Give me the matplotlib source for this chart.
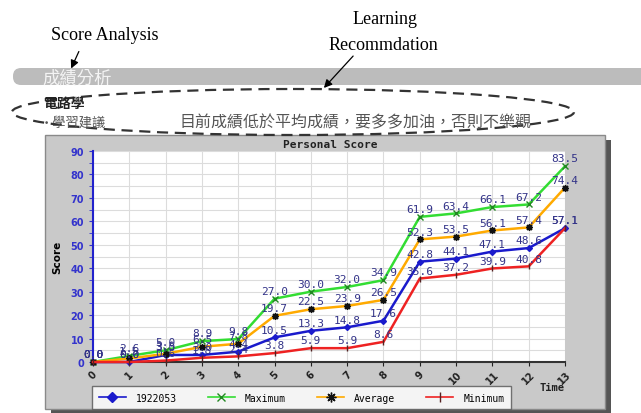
import matplotlib.pyplot as plt
from matplotlib.patches import Ellipse, FancyBboxPatch, Rectangle
from matplotlib.lines import Line2D

# chart data
times = list(range(14))
student = [0.0, 0.0, 3.0, 3.0, 4.4, 10.5, 13.3, 14.8, 17.6, 42.8, 44.1, 47.1, 48.6, 57.1]
maximum = [0.0, 2.6, 5.0, 8.9, 9.8, 27.0, 30.0, 32.0, 34.9, 61.9, 63.4, 66.1, 67.2, 83.5]
average = [0.0, 1.5, 3.5, 6.5, 7.8, 19.7, 22.5, 23.9, 26.5, 52.3, 53.5, 56.1, 57.4, 74.4]
minimum = [0.0, 0.0, 0.6, 1.8, 2.4, 3.8, 5.9, 5.9, 8.6, 35.6, 37.2, 39.9, 40.8, 57.1]
series_names = ["1922053", "Maximum", "Average", "Minimum"]
y_ticks = list(range(0, 91, 10))

W, H = 641, 414
fig = plt.figure(figsize=(W / 100, H / 100), dpi=100)

# page background in pixel coordinates
bg = fig.add_axes([0, 0, 1, 1], zorder=0)
bg.set_xlim(0, W)
bg.set_ylim(H, 0)
bg.axis("off")

serif = "Liberation Serif"
cjk = ["Noto Sans CJK TC", "DejaVu Sans"]

bg.text(105, 35, "Score Analysis", family=serif, fontsize=13, ha="center", va="center")
bg.text(385, 20, "Learning", family=serif, fontsize=13, ha="center", va="center")
bg.text(383, 45, "Recommdation", family=serif, fontsize=13, ha="center", va="center")
bg.annotate("", xy=(70, 72), xytext=(80, 50),
            arrowprops=dict(arrowstyle="-|>", color="black", lw=0.9, mutation_scale=12))
bg.annotate("", xy=(322, 91), xytext=(355, 55),
            arrowprops=dict(arrowstyle="-|>", color="black", lw=0.9, mutation_scale=12))

# grey section header
bg.add_patch(FancyBboxPatch((13, 69), 650, 17, boxstyle="round,pad=0,rounding_size=8",
                            facecolor="#bcbcbc", edgecolor="none"))
bg.text(42, 78, "成績分析", family=cjk, fontsize=12.5, color="#f4f4f4", va="center")

bg.text(43, 104, "電路學", family=cjk, fontsize=10, fontweight="bold", color="#222222", va="center")
bg.text(40, 123, "・學習建議", family=cjk, fontsize=9.5, color="#555555", va="center")
bg.text(180, 123, "目前成績低於平均成績，要多多加油，否則不樂觀", family=cjk, fontsize=11.5,
        color="#555555", va="center")

# chart panel with shadow
bg.add_patch(Rectangle((51, 141), 560, 273, facecolor="#555555", edgecolor="none"))
bg.add_patch(Rectangle((45, 136), 560, 274, facecolor="#c9c9c9", edgecolor="#8a8a8a", lw=1))

bg.add_patch(Ellipse((293, 113), 562, 46, fill=False, ls=(0, (5, 3)), lw=1.6, color="#333333"))

bg.text(330, 145, "Personal Score", family="DejaVu Sans Mono", fontsize=8, fontweight="bold",
        ha="center", va="center", color="#222222")
bg.text(552, 388, "Time", family="DejaVu Sans Mono", fontsize=7.5, fontweight="bold",
        ha="center", va="center", color="#222222")

# plot area
left, right, top, bottom = 93, 565, 152, 363
ax = fig.add_axes([left / W, (H - bottom) / H, (right - left) / W, (bottom - top) / H], zorder=1)
ax.set_facecolor("white")
ax.set_xlim(0, 13)
ax.set_ylim(0, 90)

ax.set_xticks(times)
ax.set_yticks(y_ticks)
ax.set_yticks(range(5, 90, 10), minor=True)
ax.grid(True, which="both", color="#dcdcdc", lw=0.8)
ax.set_axisbelow(True)
for s in ["top", "right"]:
    ax.spines[s].set_visible(False)
ax.spines["left"].set_color("#2222cc")
ax.spines["left"].set_linewidth(1.5)
ax.spines["bottom"].set_color("#333333")
ax.spines["bottom"].set_linewidth(1.5)
ax.tick_params(axis="y", which="both", colors="#3333cc", labelsize=7, length=3)
ax.tick_params(axis="x", colors="#222222", labelsize=7, length=3, pad=2)
for lbl in ax.get_yticklabels():
    lbl.set_fontweight("bold")
for lbl in ax.get_xticklabels():
    lbl.set_fontweight("bold")
    lbl.set_rotation(45)
    lbl.set_ha("center")
ax.set_ylabel("Score", fontsize=7.5, fontweight="bold", labelpad=6)

styles = [
    (student, "#1a1acc", "D", "#1a1acc", 3),
    (maximum, "#33dd33", "x", "#228822", 4),
    (average, "#ffaa00", (8, 2, 0), "#111111", 5),
    (minimum, "#ee2222", "|", "#552222", 5),
]
handles = []
for (vals, col, mk, mcol, ms), name in zip(styles, series_names):
    ax.plot(times, vals, color=col, lw=1.8, marker=mk, markersize=ms,
            markeredgecolor=mcol, markerfacecolor=mcol, clip_on=False, zorder=3)
    handles.append(Line2D([], [], color=col, lw=1.2, marker=mk, markersize=ms + 2,
                          markeredgecolor=mcol, markerfacecolor=mcol, label=name))
    for x, v in zip(times, vals):
        ax.annotate(f"{v:.1f}", (x, v), xytext=(0, 2), textcoords="offset points",
                    ha="center", va="bottom", fontsize=8, color="#333388",
                    family="DejaVu Sans Mono", zorder=4, annotation_clip=False)

leg = ax.legend(handles=handles, ncol=4, loc="upper left",
                bbox_to_anchor=(87 / W, 1 - 382 / H), bbox_transform=fig.transFigure,
                prop={"family": "DejaVu Sans Mono", "size": 7}, fancybox=False,
                handlelength=2.8, columnspacing=3.2, borderpad=0.7, handletextpad=1.0)
leg.get_frame().set_edgecolor("#555555")
leg.get_frame().set_linewidth(1)

fig.savefig("out.png", dpi=100)
